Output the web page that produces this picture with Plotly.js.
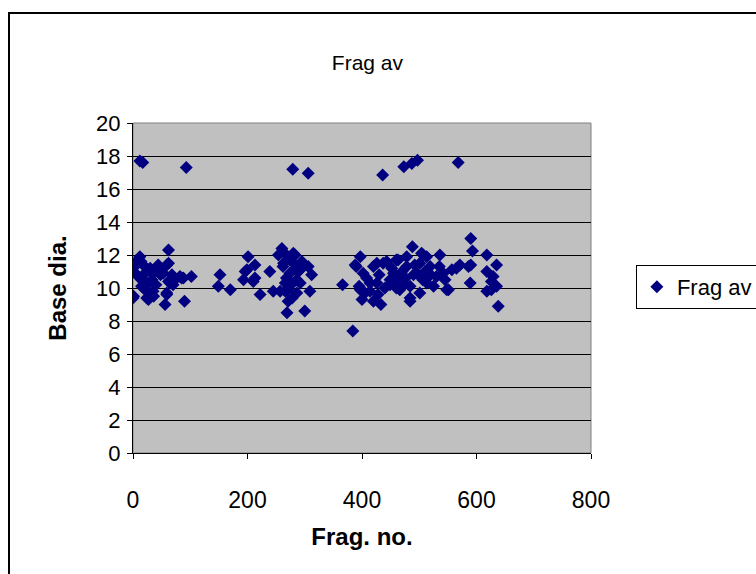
<!DOCTYPE html>
<html>
<head>
<meta charset="utf-8">
<script src="https://cdn.plot.ly/plotly-3.0.1.min.js"></script>
<style>
  html, body { margin: 0; padding: 0; background: #fff; overflow: hidden; }
  #chart { width: 756px; height: 574px; position: absolute; left: 0; top: 0; }
  #frame { position: absolute; left: 8px; top: 12px; width: 820px; height: 640px;
           border: 2px solid #000; pointer-events: none; box-sizing: border-box; }
</style>
</head>
<body>
<div id="chart"></div>
<div id="frame"></div>
<script>
const seriesName = "Frag av";
const fragNo = [
  0, 1, 3, 4, 6, 8, 9, 12, 12, 14, 15, 15, 17, 18, 21, 21, 24, 27, 27, 30,
  33, 35, 35, 36, 40, 44, 44, 48, 53, 56, 59, 59, 59, 62, 62, 62, 65, 68, 70, 73,
  82, 85, 88, 90, 93, 102,
  149, 152, 170,
  193, 196, 199, 201, 210, 213, 213, 222, 239, 245, 254, 257, 260, 262, 263, 265,
  266, 266, 268, 269, 270, 271, 272, 274, 276, 278, 279, 280, 280, 283, 284, 286,
  286, 289, 292, 292, 295, 300, 306, 306, 309, 312,
  366, 384, 388, 390, 395, 397, 397, 400, 402, 405, 408, 414, 414, 420, 420, 426,
  426, 428, 430, 433, 436, 437, 440, 443, 449, 449, 452, 455, 458, 460, 460, 463,
  466, 466, 470, 472, 473, 476, 478, 478, 484, 484, 484, 487, 488, 490, 492, 496,
  497, 501, 501, 504, 506, 507, 510, 513, 513, 519, 520, 525, 530, 535, 536, 542,
  545, 548, 551, 557,
  565, 568, 571, 586, 589, 590, 590, 593, 618, 618, 618, 626, 626, 629, 635, 635, 638
];
const baseDia = [
  9.4, 9.5, 11.3, 10.9, 11.5, 11.7, 10.7, 11.9, 17.7, 11.6, 10.5, 10.1, 17.6, 11.4, 10.9, 9.9, 9.4, 9.3, 10.3, 11.2,
  10.5, 10.9, 9.8, 9.5, 10.2, 11.3, 11.4, 10.8, 10.9, 9.0, 11.4, 9.6, 9.7, 12.3, 11.5, 10.4, 10.3, 10.8, 10.2, 10.5,
  10.7, 10.6, 10.6, 9.2, 17.3, 10.7,
  10.1, 10.8, 9.9,
  10.5, 11.0, 11.1, 11.9, 10.4, 11.4, 10.6, 9.6, 11.0, 9.8, 12.0, 9.8, 12.4, 11.3, 11.5, 12.1,
  10.3, 9.8, 10.6, 8.5, 9.9, 9.2, 11.8, 10.9, 10.2, 9.4, 17.2, 12.1, 11.5, 12.0, 11.2, 9.7,
  10.5, 11.0, 10.3, 11.1, 11.6, 8.6, 11.3, 16.95, 9.8, 10.8,
  10.2, 7.4, 11.4, 11.3, 10.1, 11.9, 9.9, 9.3, 10.9, 9.7, 10.6, 9.8, 10.3, 9.2, 11.3, 10.3,
  11.5, 9.6, 10.8, 9.0, 16.85, 11.5, 10.0, 11.6, 10.5, 10.2, 11.2, 10.9, 10.4, 11.7, 10.0, 11.7,
  10.7, 9.9, 11.0, 10.3, 17.35, 10.6, 11.3, 11.9, 10.1, 9.4, 9.2, 17.55, 12.5, 10.8, 11.4, 10.9,
  17.75, 9.7, 11.5, 12.1, 10.5, 12.0, 11.0, 10.3, 11.9, 11.3, 10.8, 10.1, 10.7, 11.3, 12.0, 10.9,
  10.5, 9.9, 9.9, 11.1,
  11.2, 17.6, 11.4, 11.3, 10.3, 11.4, 13.0, 12.25, 12.0, 11.0, 9.8, 10.4, 9.9, 10.7, 11.4, 10.1, 8.9
];
const chartTitle = "Frag av";
const xTitle = "Frag. no.";
const yTitle = "Base dia.";
const xTickVals = [0, 200, 400, 600, 800];
const yTickVals = [0, 2, 4, 6, 8, 10, 12, 14, 16, 18, 20];

const font = "Liberation Sans, Arial, sans-serif";

const trace = {
  type: "scatter",
  mode: "markers",
  name: seriesName,
  x: fragNo,
  y: baseDia,
  marker: { symbol: "diamond", size: 10, color: "#000080", line: { width: 0 } },
  showlegend: true
};

const layout = {
  width: 756,
  height: 574,
  margin: { l: 133, r: 165, t: 123, b: 121, autoexpand: false },
  paper_bgcolor: "#ffffff",
  plot_bgcolor: "#c0c0c0",
  font: { family: font, size: 22, color: "#000" },
  title: {
    text: chartTitle,
    font: { family: font, size: 21, color: "#000" },
    xref: "container", x: 0.486, xanchor: "center",
    yref: "container", y: 0.89, yanchor: "middle"
  },
  xaxis: {
    range: [0, 800],
    tickvals: xTickVals,
    ticks: "outside", ticklen: 5, tickcolor: "#000", tickwidth: 1,
    ticklabelstandoff: 21,
    showgrid: false, zeroline: false,
    showline: true, linecolor: "#000", linewidth: 1,
    tickfont: { family: font, size: 23, color: "#000" },
    title: { text: xTitle, font: { family: font, size: 24, color: "#000", weight: "bold" }, standoff: 16 },
    automargin: false,
    fixedrange: true
  },
  yaxis: {
    range: [0, 20],
    tickvals: yTickVals,
    ticks: "outside", ticklen: 5, tickcolor: "#000", tickwidth: 1,
    ticklabelstandoff: 2,
    showgrid: true, gridcolor: "#000", gridwidth: 1,
    zeroline: false,
    showline: true, linecolor: "#000", linewidth: 1,
    tickfont: { family: font, size: 22, color: "#000" },
    title: { text: yTitle, font: { family: font, size: 24, color: "#000", weight: "bold" }, standoff: 22 },
    automargin: false,
    fixedrange: true
  },
  legend: {
    x: 1.098, xanchor: "left",
    y: 0.503, yanchor: "middle",
    bgcolor: "#ffffff",
    bordercolor: "#000", borderwidth: 1,
    font: { family: font, size: 22, color: "#000" },
    itemwidth: 30
  },
  shapes: [{
    type: "rect", xref: "paper", yref: "paper", x0: 0, x1: 1, y0: 0, y1: 1,
    line: { color: "#808080", width: 1 }, fillcolor: "rgba(0,0,0,0)", layer: "below"
  }]
};

Plotly.newPlot("chart", [trace], layout, { displayModeBar: false, staticPlot: true });
</script>
</body>
</html>
